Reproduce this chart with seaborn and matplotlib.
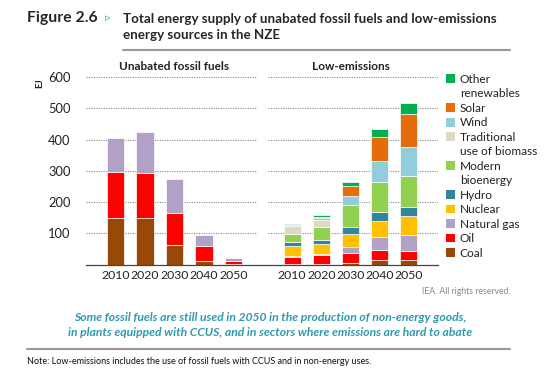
import matplotlib
matplotlib.use("Agg")
import matplotlib.pyplot as plt
import seaborn as sns
import numpy as np
import pandas as pd
from matplotlib.patches import Patch

# data (EJ)
years = ["2010", "2020", "2030", "2040", "2050"]

fossil_coal = [150, 150, 63, 12, 2]
fossil_oil = [146, 143, 103, 46, 9]
fossil_gas = [110, 131, 109, 35, 10]

low_coal = [1, 1, 6, 15, 13]
low_oil = [22, 28, 30, 32, 29]
low_gas = [4, 5, 20, 40, 51]
low_nuclear = [33, 31, 42, 53, 62]
low_hydro = [12, 13, 22, 27, 30]
low_modern = [25, 41, 72, 98, 99]
low_traditional = [27, 25, 0, 0, 0]
low_wind = [2, 6, 27, 67, 91]
low_solar = [1, 3, 32, 78, 108]
low_other = [3, 6, 14, 24, 34]

sources = ["Other renewables", "Solar", "Wind", "Traditional use of biomass",
           "Modern bioenergy", "Hydro", "Nuclear", "Natural gas", "Oil", "Coal"]
legend_labels = ["Other\nrenewables", "Solar", "Wind", "Traditional\nuse of biomass",
                 "Modern\nbioenergy", "Hydro", "Nuclear", "Natural gas", "Oil", "Coal"]
colors = {
    "Other renewables": "#00B050",
    "Solar": "#E46C0A",
    "Wind": "#92CDDC",
    "Traditional use of biomass": "#DDD9C3",
    "Modern bioenergy": "#92D050",
    "Hydro": "#31859C",
    "Nuclear": "#FFC000",
    "Natural gas": "#B2A1C7",
    "Oil": "#FF0000",
    "Coal": "#984807",
}

fossil = {"Coal": fossil_coal, "Oil": fossil_oil, "Natural gas": fossil_gas}
low = {"Coal": low_coal, "Oil": low_oil, "Natural gas": low_gas, "Nuclear": low_nuclear,
       "Hydro": low_hydro, "Modern bioenergy": low_modern,
       "Traditional use of biomass": low_traditional, "Wind": low_wind,
       "Solar": low_solar, "Other renewables": low_other}


def to_frame(d):
    rows = []
    for src, vals in d.items():
        for i, v in enumerate(vals):
            rows.append({"pos": i, "source": src, "value": v})
    return pd.DataFrame(rows)


sns.set_style("white")
plt.rcParams["font.family"] = ["Lato", "DejaVu Sans"]

fig = plt.figure(figsize=(5.56, 3.8), dpi=100)
x0, xm, x1 = 86 / 556, 263 / 556, 438 / 556
bot, top = 1 - 264.5 / 380, 1 - 75.7 / 380
ax1 = fig.add_axes([x0, bot, xm - x0, top - bot])
ax2 = fig.add_axes([xm, bot, x1 - xm, top - bot], sharey=ax1)

for ax, d, title in [(ax1, fossil, "Unabated fossil fuels"), (ax2, low, "Low-emissions")]:
    df = to_frame(d)
    order = [s for s in sources if s in d]
    sns.histplot(data=df, x="pos", weights="value", hue="source", hue_order=order,
                 multiple="stack", discrete=True, shrink=0.58, palette=colors,
                 alpha=1, edgecolor="white", linewidth=0.5, legend=False, ax=ax)
    ax.set_xlim(-1, 5)
    ax.set_ylim(0, 605)
    ax.set_xticks(range(len(years)))
    ax.set_xticklabels(years, fontsize=8.8, color="#222222")
    ax.set_xticks([-1, 5], minor=True)
    ax.tick_params(axis="x", which="major", length=0, pad=4)
    ax.tick_params(axis="x", which="minor", length=4, width=0.8, color="#444444", direction="out")
    ax.set_xlabel("")
    ax.set_ylabel("")
    for s in ["top", "right", "left"]:
        ax.spines[s].set_visible(False)
    ax.spines["bottom"].set_color("#444444")
    ax.spines["bottom"].set_linewidth(0.9)
    ax.set_title(title, fontsize=8.5, fontweight="bold", pad=4, color="#222222")

yt = [100, 200, 300, 400, 500, 600]
for y in yt:
    ax1.axhline(y, xmin=0, xmax=0.96, color="#888888", lw=0.8, ls=(0, (1, 1.2)), zorder=0)
    ax2.axhline(y, xmin=0.03, xmax=1, color="#888888", lw=0.8, ls=(0, (1, 1.2)), zorder=0)

ax1.set_yticks(yt)
ax1.tick_params(axis="y", length=0, pad=11, labelsize=9.3, labelcolor="#222222")
ax2.tick_params(axis="y", left=False, labelleft=False)
fig.text(40 / 556, 1 - 83 / 380, "EJ", rotation=90, fontsize=7, fontweight="bold",
         ha="center", va="center")

# legend: one row per text line, square only on the first line of each entry
handles, labels = [], []
for s, lab in zip(sources, legend_labels):
    lines = lab.split("\n")
    handles.append(Patch(facecolor=colors[s], edgecolor="none"))
    labels.append(lines[0])
    for extra in lines[1:]:
        handles.append(Patch(facecolor="none", edgecolor="none"))
        labels.append(extra)
leg = fig.legend(handles, labels, loc="upper left",
                 bbox_to_anchor=(446 / 556, 1 - 74 / 380), frameon=False,
                 fontsize=8.6, handlelength=0.75, handleheight=0.75, handletextpad=0.4,
                 labelspacing=0.29, borderaxespad=0, borderpad=0)
for t in leg.get_texts():
    t.set_color("#222222")

# header
fig.text(27 / 556, 1 - 18 / 380, "Figure 2.6", fontsize=11.3, fontweight="bold",
         ha="left", va="center")
fig.text(108 / 556, 1 - 18 / 380, "\u25B9", fontsize=8, color="#31A2C0",
         ha="center", va="center", family=["DejaVu Sans"])
fig.text(123 / 556, 1 - 27 / 380,
         "Total energy supply of unabated fossil fuels and low-emissions\nenergy sources in the NZE",
         fontsize=9.6, fontweight="bold", ha="left", va="center", linespacing=1.35)
fig.add_artist(plt.Line2D([123 / 556, 510 / 556], [1 - 50 / 380] * 2,
                          color="#999999", lw=1.5, transform=fig.transFigure))

# footer
fig.text(510 / 556, 1 - 292 / 380, "IEA. All rights reserved.", fontsize=6.2,
         color="#888888", ha="right", va="center")
fig.text(270 / 556, 1 - 325 / 380,
         "Some fossil fuels are still used in 2050 in the production of non-energy goods,\n"
         "in plants equipped with CCUS, and in sectors where emissions are hard to abate",
         fontsize=8.75, fontweight="bold", style="italic", color="#2E9AB0",
         ha="center", va="center", linespacing=1.45)
fig.add_artist(plt.Line2D([27 / 556, 510 / 556], [1 - 349 / 380] * 2,
                          color="#999999", lw=1.5, transform=fig.transFigure))
fig.text(27 / 556, 1 - 362 / 380,
         "Note: Low-emissions includes the use of fossil fuels with CCUS and in non-energy uses.",
         fontsize=6.5, color="#111111", ha="left", va="center")

fig.savefig("out.png", dpi=100)
